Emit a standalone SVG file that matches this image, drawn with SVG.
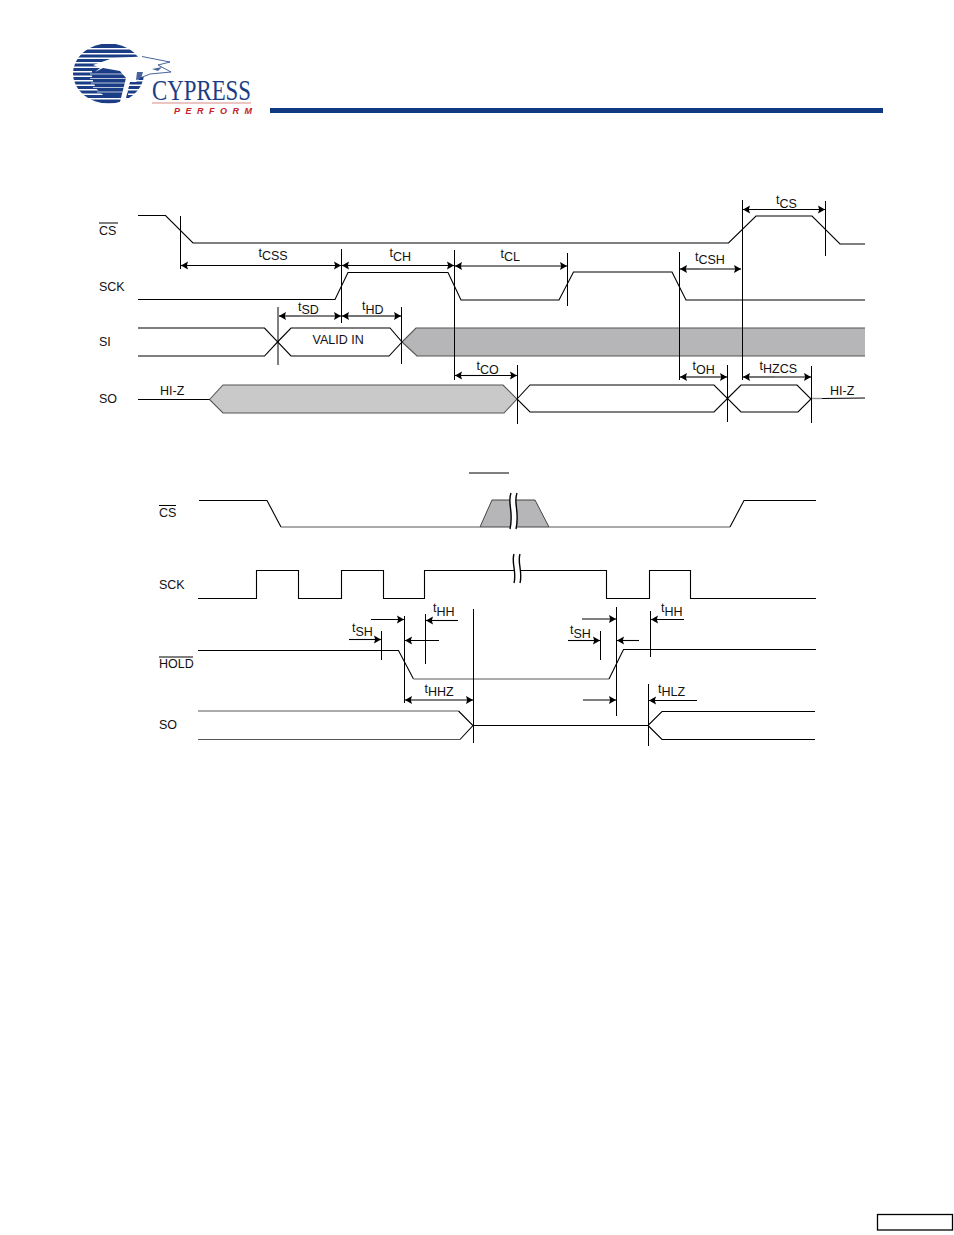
<svg xmlns="http://www.w3.org/2000/svg" width="954" height="1235" viewBox="0 0 954 1235">
<style>
text{font-family:"Liberation Sans",Arial,sans-serif;font-size:12.5px;fill:#111}
.w{fill:none;stroke:#000;stroke-width:1.1}
.g{fill:none;stroke:#8f8f8f;stroke-width:1.4}
.b{fill:none;stroke:#000;stroke-width:1.4}
.v{fill:none;stroke:#000;stroke-width:1}
.a{fill:none;stroke:#000;stroke-width:1.1;marker-end:url(#ah)}
</style>
<defs>
<marker id="ah" markerUnits="userSpaceOnUse" markerWidth="8" markerHeight="9" refX="7" refY="4.5" orient="auto"><path d="M0 0.5L7 4.5L0 8.500L1.200 4.500z" fill="#000"/></marker>
<clipPath id="globe"><ellipse cx="108.500" cy="73.500" rx="35.500" ry="30"/></clipPath>
</defs>
<rect width="954" height="1235" fill="#fff"/>

<g id="logo">
<g clip-path="url(#globe)" fill="#1b3d85">
<rect x="70" y="44" width="76" height="4"/>
<rect x="70" y="49.500" width="76" height="3.500"/>
<rect x="70" y="54.500" width="76" height="3"/>
<rect x="70" y="59" width="76" height="3"/>
<rect x="70" y="63.500" width="76" height="3"/>
<rect x="70" y="68" width="76" height="3"/>
<rect x="70" y="72.500" width="76" height="3"/>
<rect x="70" y="77" width="76" height="3"/>
<rect x="70" y="81.500" width="76" height="3"/>
<rect x="70" y="86" width="76" height="3"/>
<rect x="70" y="90.500" width="76" height="3"/>
<rect x="70" y="95" width="76" height="3"/>
<rect x="70" y="99.500" width="76" height="4"/>
<path d="M92 70H128V98H108C96 92 91 82 92 70z"/>
<path d="M90 74H128M90 78.500H128M91 83H128M93 87.500H128M97 92H128" stroke="#fff" stroke-width="0.700"/>
</g>
<path d="M93 65L113 58L142 56.500L170 62L158 65L171 72L150 74L140 78L136 82L130 82L125 102L120 102L126 78L120 71L103 68L95 72L100 68z" fill="#fff"/>
<path d="M142 56.500L170 62L158 65L171 72L150 74L140 78" fill="none" stroke="#1b3d85" stroke-width="0.800"/>
<path d="M152 69L162 67L158 71zM137 72L143 72L141 79L136 80z" fill="#1b3d85" opacity="0.800"/>
<text x="152" y="100" style="font-family:'Liberation Serif',serif;font-size:29px;fill:#1b3d85" textLength="99" lengthAdjust="spacingAndGlyphs">CYPRESS</text>
<rect x="152" y="102.500" width="99" height="1" fill="#d98a8a"/>
<text x="174" y="114" style="font-size:9px;font-weight:bold;font-style:italic;fill:#c8202c" textLength="78">PERFORM</text>
</g>
<rect id="header-rule" x="270" y="108" width="613" height="5" fill="#0f3a82"/>
<g id="footer-box"><rect x="877.500" y="1214.500" width="75" height="15.500" fill="#fff" stroke="#000" stroke-width="1.300"/></g>

<g id="top-cs"><path class="w" d="M138 215.500H165.500L193 243H728.500L756 216H812L840 244H865"/></g>
<g id="top-sck"><path class="w" d="M138 299.500H335L348 272.500H448L461 300H559L573.500 272H672L686 300H865"/></g>
<g id="top-si">
<path d="M402 342L416 328H865V356H417z" fill="#b6b6b8"/>
<path d="M402 342L416 328H865M865 356H417L402 342" fill="none" stroke="#555" stroke-width="1.100"/>
<path class="w" d="M138 328H264.500L291 356H389L402 342L390 328H291L278 341.500L264.500 356H138"/>
</g>
<g id="top-so">
<path d="M209.500 399.500L223 385H503L517 399L504 413H223z" fill="#c9c9c9" stroke="#555" stroke-width="1.100"/>
<path class="w" d="M138 399.500H209.500"/>
<path class="w" d="M517 399L530 385H714L727.500 398.500L714 412H530z"/>
<path class="w" d="M727.500 398.500L741 385H797L811 399L798 412H741z"/>
<path class="g" d="M811 398.500H822"/>
<path class="w" d="M822 398.500L865 398"/>
</g>

<g id="bottom-cs">
<path d="M480 527L492 500H535L549 527z" fill="#b6b6b8" stroke="#444" stroke-width="1"/>
<path class="w" d="M199 500.500H267L281 527"/>
<path class="g" d="M281 527H480M549 527H730"/>
<path class="w" d="M730 527L744 500.500H816"/>
<path d="M511 494C507 503 514 510 510 528L516 529C520 510 513 503 517 494z" fill="#fff"/>
<path class="b" d="M511 493C507 503 514 511 510 529M517 493C513 503 520 511 516 529"/>
</g>
<g id="bottom-sck">
<path class="w" d="M198 598.500H256.500V570.500H298.500V598.500H341.500V570.500H383.500V598.500H424.500V570.500H606.500V598.500H649.500V570.500H690.500V598.500H816"/>
<path d="M514 554C511 562 517 572 514 583L520 583C523 572 517 562 520 554z" fill="#fff"/>
<path class="b" d="M514 554C511 562 517 572 514 583M520 554C517 562 523 572 520 583"/>
</g>
<g id="bottom-hold">
<path class="w" d="M198 650.500H398.500L413.500 679"/>
<path class="g" d="M413.500 679H609"/>
<path class="w" d="M609 679L623.500 649.500H816"/>
</g>
<g id="bottom-so">
<path class="g" d="M198 711H458.500"/>
<path class="w" d="M458.500 711L473 725.500L460 739.500"/>
<path class="g" d="M198 739.500H460" style="stroke:#555;stroke-width:1.200"/>
<path class="w" d="M473 725.500H648L662 711.500H815M648 725.500L662 739.500H815"/>
</g>
<g id="hold-bar"><rect x="469" y="472.500" width="40" height="1" fill="#000"/></g>

<g id="connectors">
<path class="v" d="M180.500 216V269M341.500 249V323M454.500 250V380M278 307V365M401.500 307V364M567.500 253V306M679.500 252V380M742.500 200V380M825.500 201V256M517.500 365V424M727.500 365V422M811.500 366V423"/>
<path class="v" d="M473.500 609V743M404.500 616V703M425.500 614V664M381.500 631V660M600.500 631V660M616.500 607V716M650.500 611V657M648.500 684V746"/>
<path class="a" d="M188 265.500H341"/><path class="a" d="M188 265.500H181"/>
<path class="a" d="M350 265.500H342"/><path class="a" d="M350 265.500H454"/>
<path class="a" d="M462 266H455"/><path class="a" d="M462 266H567"/>
<path class="a" d="M700 269H680"/><path class="a" d="M700 269H741"/>
<path class="a" d="M780 209.500H743"/><path class="a" d="M780 209.500H825"/>
<path class="a" d="M300 316H279"/><path class="a" d="M300 316H341"/>
<path class="a" d="M370 316H342"/><path class="a" d="M370 316H401"/>
<path class="a" d="M480 375.500H455"/><path class="a" d="M480 375.500H517"/>
<path class="a" d="M700 377H680"/><path class="a" d="M700 377H727"/>
<path class="a" d="M775 377H743"/><path class="a" d="M775 377H811"/>
<path class="a" d="M371 619.500H404"/>
<path class="a" d="M458 620.500H426"/>
<path class="a" d="M349 639.500H381"/>
<path class="a" d="M439 640.500H405"/>
<path class="a" d="M440 700H405"/><path class="a" d="M440 700H473"/>
<path class="a" d="M568 640.500H600"/>
<path class="a" d="M582 619H616"/>
<path class="a" d="M639 640.500H617"/>
<path class="a" d="M684 619.500H651"/>
<path class="a" d="M583 700H616"/>
<path class="a" d="M697 700.500H649"/>
</g>

<g id="labels">
<text x="99" y="235">CS</text><rect x="99" y="222.500" width="19" height="1" fill="#000"/>
<text x="99" y="291">SCK</text>
<text x="99" y="346">SI</text>
<text x="99" y="403">SO</text>
<text x="160" y="395">HI-Z</text>
<text x="830" y="395">HI-Z</text>
<text x="312.500" y="344">VALID IN</text>
<text x="159" y="517">CS</text><rect x="159" y="505" width="17" height="1" fill="#000"/>
<text x="159" y="589">SCK</text>
<text x="159" y="668">HOLD</text><rect x="159" y="656.500" width="34" height="1" fill="#000"/>
<text x="159" y="729">SO</text>
<text x="258.500" y="257">t<tspan dy="3">CSS</tspan></text>
<text x="389.500" y="257">t<tspan dy="4">CH</tspan></text>
<text x="500.500" y="258">t<tspan dy="3">CL</tspan></text>
<text x="695" y="261">t<tspan dy="3">CSH</tspan></text>
<text x="776" y="204">t<tspan dy="4">CS</tspan></text>
<text x="298" y="311">t<tspan dy="3">SD</tspan></text>
<text x="362" y="310">t<tspan dy="4">HD</tspan></text>
<text x="476.500" y="369.500">t<tspan dy="4">CO</tspan></text>
<text x="692.500" y="369.500">t<tspan dy="4">OH</tspan></text>
<text x="759.500" y="370">t<tspan dy="3">HZCS</tspan></text>
<text x="352" y="632">t<tspan dy="4">SH</tspan></text>
<text x="433" y="611.500">t<tspan dy="4">HH</tspan></text>
<text x="424.500" y="693">t<tspan dy="3">HHZ</tspan></text>
<text x="570" y="634">t<tspan dy="4">SH</tspan></text>
<text x="661" y="611.500">t<tspan dy="4">HH</tspan></text>
<text x="658" y="693">t<tspan dy="3">HLZ</tspan></text>
</g>
</svg>
